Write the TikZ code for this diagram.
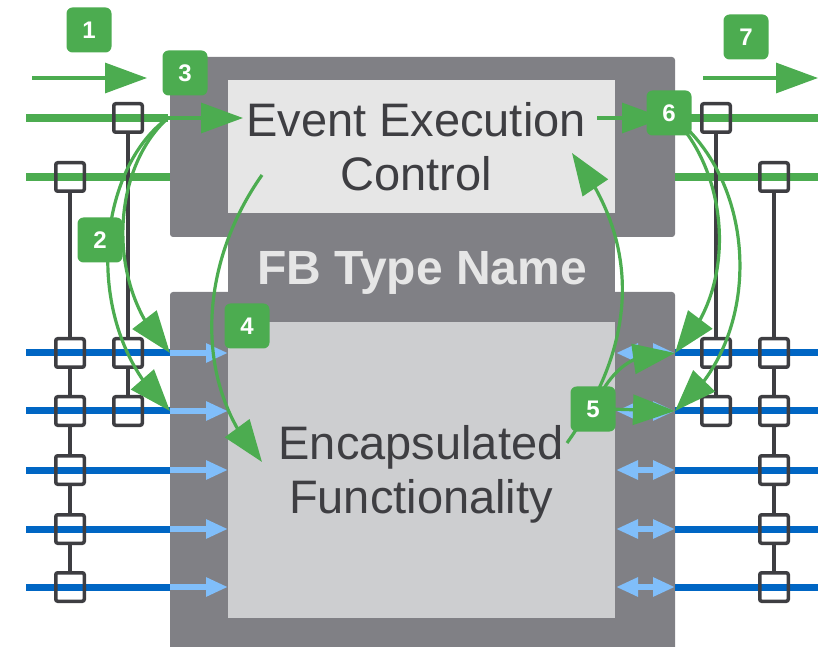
\documentclass[tikz,border=0pt]{standalone}
\usepackage{fontspec}
\setmainfont{Liberation Sans}
\usetikzlibrary{arrows.meta,bending}

\definecolor{fbdark}{RGB}{128,128,133}
\definecolor{fblight}{RGB}{230,230,230}
\definecolor{fbbody}{RGB}{205,206,208}
\definecolor{ink}{RGB}{62,62,66}
\definecolor{evgreen}{RGB}{76,172,80}
\definecolor{datablue}{RGB}{0,102,196}
\definecolor{flowblue}{RGB}{128,190,250}

\begin{document}
\begin{tikzpicture}[x=1pt,y=-1pt,>=stealth,
  adapt/.style={draw=ink, line width=3.5pt, rounded corners=2pt, minimum size=28.5pt, inner sep=0pt},
  marker/.style={fill=evgreen, rounded corners=6pt, minimum size=45pt, inner sep=0pt,
    text=white, font=\fontsize{24}{24}\selectfont\bfseries},
  evline/.style={evgreen, line width=8pt},
  dataline/.style={datablue, line width=7pt},
  conn/.style={ink, line width=3.5pt},
  flow/.style={flowblue, line width=6pt, -{Triangle[length=22pt,width=18pt]}},
  flowboth/.style={flowblue, line width=6pt, {Triangle[length=22pt,width=18pt]}-{Triangle[length=22pt,width=18pt]}},
  greenarrow/.style={evgreen, line width=3.2pt, -{Triangle[length=42pt,width=30pt]}},
  label/.style={text=ink, align=center, inner sep=0pt, font=\fontsize{47}{54}\selectfont}]

  \useasboundingbox (0,0) rectangle (823,647);

  %%%%%%%%%%%%%%%%%%%%%%%%%%%%%%%%%%%%%%%%%%
  % FB frame
  \fill[fbdark, rounded corners=3pt] (170,57) rectangle (675,237);
  \fill[fbdark] (228,200) rectangle (615,300);
  \fill[fbdark] (170,647) [rounded corners=3pt] -- (170,292) -- (675,292) [sharp corners] -- (675,647) -- cycle;
  \fill[fblight] (228,80) rectangle (615,213);
  \fill[fbbody] (228,322) rectangle (615,618);

  % Texts
  \node[label] (ecc) at (416,147) {Event Execution\\Control};
  \node[label, text=fblight, font=\fontsize{48}{48}\selectfont\bfseries] (fbname) at (422,273) {FB Type Name};
  \node[label] (body) at (421,474) {Encapsulated\\Functionality};

  % Points on the frame
  \foreach \y [count=\i] in {353,411,470,529,587} {
    \coordinate (outL\i) at (26,\y);
    \coordinate (inL\i) at (170,\y);
    \coordinate (fbL\i) at (228,\y);
    \coordinate (fbR\i) at (616,\y);
    \coordinate (inR\i) at (675,\y);
    \coordinate (outR\i) at (818,\y);
  }
  \coordinate (evL1) at (26,118);
  \coordinate (evL2) at (26,177);
  \coordinate (ein) at (168,118);
  \coordinate (evin) at (170,177);
  \coordinate (ecin) at (243,118);
  \coordinate (ecout) at (597,118);
  \coordinate (evout1) at (680,118);
  \coordinate (evR1) at (818,118);
  \coordinate (evout) at (675,177);
  \coordinate (evR2) at (818,177);
  \coordinate (ecdown) at (262,175);
  \coordinate (fbin) at (262,462);
  \coordinate (fbtail) at (567,443);
  \coordinate (ecback) at (572,153);
  \coordinate (dirL) at (32,78);
  \coordinate (dirLe) at (147,78);
  \coordinate (dirR) at (703,78);
  \coordinate (dirRe) at (818,78);

  % Data lines
  \foreach \i in {1,...,5} {
    \draw[dataline] (outL\i) -- (inL\i);
    \draw[dataline] (inR\i) -- (outR\i);
    \draw[flow] (inL\i) -- (fbL\i);
    \draw[flowboth] (fbR\i) -- (inR\i);
  }

  % Event lines
  \draw[evline] (evL1) -- (ein);
  \draw[evline] (evL2) -- (evin);
  \draw[evline] (evout1) -- (evR1);
  \draw[evline] (evout) -- (evR2);

  % With associations, left
  \foreach \y [count=\i from 0] in {177,353,411,470,529,587}
    \node[adapt] (a\i) at (70,\y) {};
  \foreach \y [count=\i from 0] in {118,353,411}
    \node[adapt] (b\i) at (128,\y) {};
  % With associations, right
  \foreach \y [count=\i from 0] in {118,353,411}
    \node[adapt] (c\i) at (716,\y) {};
  \foreach \y [count=\i from 0] in {177,353,411,470,529,587}
    \node[adapt] (d\i) at (774,\y) {};

  \foreach \i/\j in {0/1,1/2,2/3,3/4,4/5} {
    \draw[conn] (a\i) -- (a\j);
    \draw[conn] (d\i) -- (d\j);
  }
  \foreach \i/\j in {0/1,1/2} {
    \draw[conn] (b\i) -- (b\j);
    \draw[conn] (c\i) -- (c\j);
  }

  % Execution sequence
  \draw[greenarrow] (dirL) -- (dirLe);
  \draw[greenarrow] (dirR) -- (dirRe);
  \draw[greenarrow] (ein) -- (ecin);
  \draw[greenarrow] (ein) .. controls (110,170) and (105,290) .. (inL1);
  \draw[greenarrow] (ein) .. controls (95,170) and (80,330) .. (inL2);
  \draw[greenarrow] (ecdown) .. controls (195,270) and (195,390) .. (fbin);
  \draw[greenarrow] (fbtail) .. controls (640,340) and (640,240) .. (ecback);
  \draw[greenarrow] (593,409) .. controls (615,360) and (640,352) .. (inR1);
  \draw[greenarrow] (593,409) .. controls (630,409) and (650,411) .. (inR2);
  \draw[greenarrow] (ecout) -- (664,118);
  \draw[greenarrow] (669,113) .. controls (730,170) and (740,290) .. (inR1);
  \draw[greenarrow] (669,113) .. controls (760,180) and (765,340) .. (inR2);

  % Markers
  \node[marker] (m1) at (89,30) {1};
  \node[marker] (m2) at (100,240) {2};
  \node[marker] (m3) at (185,73) {3};
  \node[marker] (m4) at (247,326) {4};
  \node[marker] (m5) at (593,409) {5};
  \node[marker] (m6) at (669,113) {6};
  \node[marker] (m7) at (746,37) {7};
\end{tikzpicture}
\end{document}
